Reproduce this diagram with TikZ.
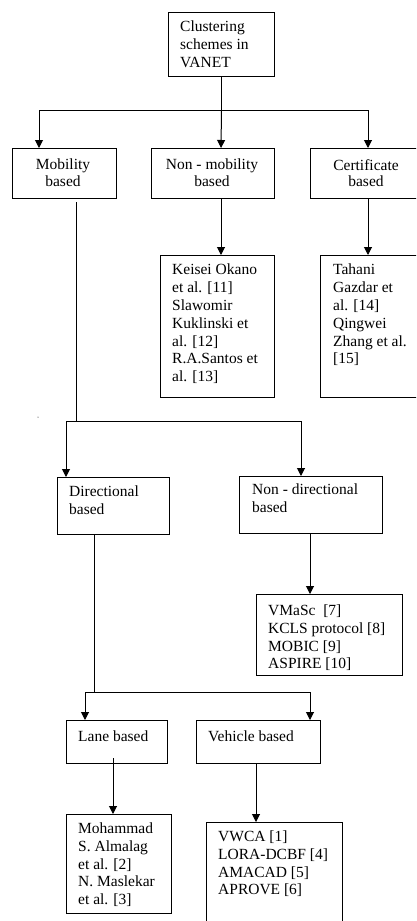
\documentclass[tikz,border=0pt]{standalone}
\usepackage{fontspec}
\setmainfont{Liberation Serif}
\usetikzlibrary{arrows.meta,calc}
\newcommand{\firststrut}{\rule{0pt}{12pt}}
\begin{document}
\begin{tikzpicture}[x=1pt,y=-1pt,
  box/.style={draw,line width=1pt,inner sep=0pt,anchor=north west},
  txt/.style={anchor=north west,inner sep=0pt,align=left,font=\fontsize{15.5}{17.6}\selectfont,execute at begin node=\firststrut},
  ctxt/.style={anchor=north,inner sep=0pt,align=center,font=\fontsize{15.5}{16.2}\selectfont,execute at begin node=\firststrut},
  conn/.style={line width=1pt},
  arr/.style={conn,-{Triangle[length=8pt,width=8pt]}}]
\useasboundingbox (0,0) rectangle (416,921);
\clip (0,0) rectangle (416,921);
% boxes
\node[box,minimum width=106pt,minimum height=64pt] (root) at (168,12) {};
\node[box,minimum width=104pt,minimum height=50pt] (mob) at (12,148) {};
\node[box,minimum width=123pt,minimum height=50pt] (nonmob) at (151,148) {};
\node[box,minimum width=112pt,minimum height=50pt] (cert) at (310,148) {};
\node[box,minimum width=114pt,minimum height=142pt] (ko) at (160,255) {};
\node[box,minimum width=102pt,minimum height=142pt] (tah) at (320,255) {};
\node[box,minimum width=112pt,minimum height=57pt] (dir) at (57,477) {};
\node[box,minimum width=143pt,minimum height=57pt] (nondir) at (239,476) {};
\node[box,minimum width=146pt,minimum height=81pt] (vmasc) at (256,594) {};
\node[box,minimum width=101pt,minimum height=43pt] (lane) at (66,720) {};
\node[box,minimum width=124pt,minimum height=43pt] (veh) at (196,720) {};
\node[box,minimum width=105pt,minimum height=99pt] (moh) at (66,814) {};
\node[box,minimum width=136pt,minimum height=120pt] (vwca) at (206,822) {};
% texts
\node[txt] (rootT) at ($(root.north west)+(12,9)$) {Clustering\\schemes in\\VANET};
\node[ctxt] (mobT) at (63,159) {Mobility\\based};
\node[ctxt] (nonmobT) at (212,159) {Non - mobility\\based};
\node[ctxt] (certT) at (366,159) {Certificate\\based};
\node[txt,font=\fontsize{15.5}{17.8}\selectfont] (koT) at ($(ko.north west)+(12,9)$) {Keisei Okano\\et al. [11]\\Slawomir\\Kuklinski et\\al. [12]\\R.A.Santos et\\al. [13]};
\node[txt,font=\fontsize{15.5}{17.8}\selectfont] (tahT) at ($(tah.north west)+(13,9)$) {Tahani\\Gazdar et\\al. [14]\\Qingwei\\Zhang et al.\\{[15]}};
\node[txt] (dirT) at ($(dir.north west)+(12,9)$) {Directional\\based};
\node[txt] (nondirT) at ($(nondir.north west)+(13,8)$) {Non - directional\\based};
\node[txt] (vmascT) at ($(vmasc.north west)+(12,11)$) {VMaSc\ \ [7]\\KCLS protocol [8]\\MOBIC [9]\\ASPIRE [10]};
\node[txt] (laneT) at ($(lane.north west)+(12,9)$) {Lane based};
\node[txt] (vehT) at ($(veh.north west)+(12,9)$) {Vehicle based};
\node[txt] (mohT) at ($(moh.north west)+(12,9)$) {Mohammad\\S. Almalag\\et al. [2]\\N. Maslekar\\et al. [3]};
\node[txt] (vwcaT) at ($(vwca.north west)+(12,9)$) {VWCA [1]\\LORA-DCBF [4]\\AMACAD [5]\\APROVE [6]};
% connectors, level 1
\coordinate (j1) at ($(root.south)+(0,33)$);
\coordinate (t1) at ($(mob.north west)+(27,0)$);
\coordinate (t2) at ($(nonmob.north west)+(70,0)$);
\coordinate (t3) at ($(cert.north west)+(58,0)$);
\draw[conn] (root.south) -- (j1);
\draw[arr] (j1) -| (t1);
\draw[arr] (j1) -- (t2);
\draw[arr] (j1) -| (t3);
\draw[arr] ($(nonmob.south west)+(70,0)$) -- ($(ko.north west)+(61,0)$);
\draw[arr] ($(cert.south west)+(58,0)$) -- ($(tah.north west)+(48,0)$);
% mobility branch
\coordinate (mobS) at ($(mob.south west)+(64,3)$);
\coordinate (j2) at (76,421);
\draw[conn] (mobS) -- (j2);
\draw[arr] (j2) -| ($(dir.north west)+(9,0)$);
\draw[arr] (j2) -| ($(nondir.north west)+(62,0)$);
\draw[arr] ($(nondir.south west)+(71,0)$) -- ($(vmasc.north west)+(54,0)$);
% directional branch
\coordinate (dirS) at ($(dir.south west)+(37,0)$);
\coordinate (j3) at (94,692);
\draw[conn] (dirS) -- (j3);
\draw[arr] (j3) -| ($(lane.north west)+(19,0)$);
\draw[arr] (j3) -| ($(veh.north west)+(114,0)$);
\draw[arr] ($(lane.south west)+(47,-6)$) -- ($(moh.north west)+(47,0)$);
\draw[arr] ($(veh.south west)+(60,0)$) -- ($(vwca.north west)+(50,0)$);
% stray dot
\fill (38,417) circle (0.5pt);
\end{tikzpicture}
\end{document}
